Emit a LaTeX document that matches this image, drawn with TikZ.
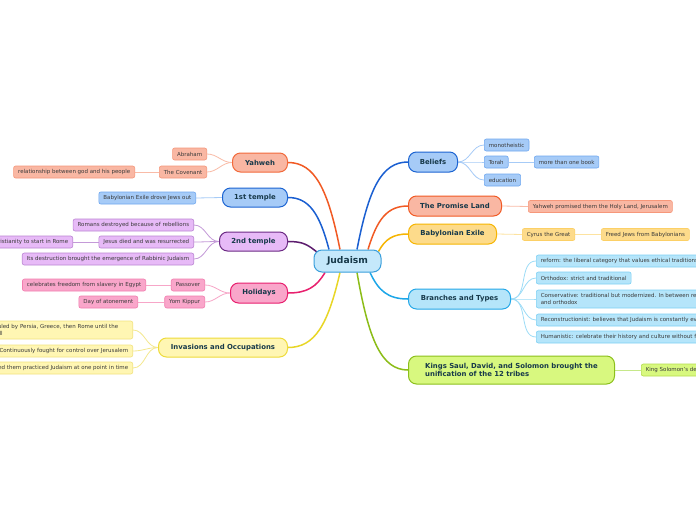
\documentclass[tikz,border=0pt]{standalone}
\usepackage{fontspec}
\setmainfont{DejaVu Sans}
\definecolor{tmain}{HTML}{17394A}
\definecolor{tsub}{HTML}{3A3A3A}
\definecolor{cenF}{HTML}{C5E8FB}\definecolor{cenB}{HTML}{3A9FDC}
\definecolor{salF}{HTML}{F9B7A3}\definecolor{salB}{HTML}{F26A3B}\definecolor{salL}{HTML}{F15A24}
\definecolor{salCB}{HTML}{F6977A}\definecolor{salCL}{HTML}{F9BBA7}
\definecolor{bluF}{HTML}{A6CBF7}\definecolor{bluB}{HTML}{1C64D2}\definecolor{bluL}{HTML}{1A5FD1}
\definecolor{bluCB}{HTML}{70A8F0}\definecolor{bluCL}{HTML}{A6CBF7}
\definecolor{purF}{HTML}{E7BAF7}\definecolor{purB}{HTML}{6C2A84}\definecolor{purL}{HTML}{5C1C6E}
\definecolor{purCB}{HTML}{BB85D4}\definecolor{purCL}{HTML}{C49AD8}
\definecolor{pinF}{HTML}{F9A6CA}\definecolor{pinB}{HTML}{E81F6E}\definecolor{pinL}{HTML}{E8206E}
\definecolor{pinCB}{HTML}{F27DAF}\definecolor{pinCL}{HTML}{F7A6C8}
\definecolor{yelF}{HTML}{FFF6B3}\definecolor{yelB}{HTML}{EEDB3A}\definecolor{yelL}{HTML}{E8D626}
\definecolor{yelCB}{HTML}{F2E37E}\definecolor{yelCL}{HTML}{F4E890}
\definecolor{ambF}{HTML}{FDDB8B}\definecolor{ambB}{HTML}{F6B502}\definecolor{ambL}{HTML}{F6B502}
\definecolor{ambCB}{HTML}{FCD066}\definecolor{ambCL}{HTML}{FDE3A0}
\definecolor{cyaF}{HTML}{B5E5FA}\definecolor{cyaB}{HTML}{25A8E8}\definecolor{cyaL}{HTML}{1CA6E8}
\definecolor{cyaCB}{HTML}{7FD1F4}\definecolor{cyaCL}{HTML}{9DDCF7}
\definecolor{grnF}{HTML}{D8F87F}\definecolor{grnB}{HTML}{8CC01C}\definecolor{grnL}{HTML}{8CBD18}
\definecolor{grnCB}{HTML}{B4DC4C}\definecolor{grnCL}{HTML}{C6E88A}
\pgfdeclarelayer{bg}
\pgfsetlayers{bg,main}
\begin{document}
\begin{tikzpicture}[x=1pt,y=-1pt,
  br/.style={draw, line width=1pt, rounded corners=8pt, minimum height=20pt, inner sep=0pt,
    font=\fontsize{6.9}{8.3}\selectfont\bfseries, text=tmain},
  ch/.style={draw, line width=0.6pt, rounded corners=2pt, minimum height=12pt, inner xsep=4.5pt, inner ysep=1pt,
    font=\fontsize{5.5}{6.4}\selectfont, text=tsub, align=left},
  mainln/.style={line width=1.5pt},
  subln/.style={line width=0.8pt},
  sal/.style={fill=salF, draw=salCB}, blu/.style={fill=bluF, draw=bluCB},
  pur/.style={fill=purF, draw=purCB}, pin/.style={fill=pinF, draw=pinCB},
  yel/.style={fill=yelF, draw=yelCB}, amb/.style={fill=ambF, draw=ambCB},
  cya/.style={fill=cyaF, draw=cyaCB}, grn/.style={fill=grnF, draw=grnCB}]
\useasboundingbox (0,0) rectangle (696,520);
\clip (0,0) rectangle (696,520);

% center
\node[br, fill=cenF, draw=cenB, minimum width=67pt, minimum height=22pt,
  font=\fontsize{9.2}{11}\selectfont\bfseries, text=tmain] (jud) at (347.5,261) {Judaism};

% left branches
\node[br, fill=salF, draw=salB, minimum width=55pt, minimum height=19pt, anchor=east] (yah) at (288,162.5) {Yahweh};
\node[br, fill=bluF, draw=bluB, minimum width=65pt, minimum height=19pt, anchor=east] (t1) at (288,197.5) {1st temple};
\node[br, fill=purF, draw=purB, minimum width=68pt, minimum height=19pt, anchor=east] (t2) at (288,241.5) {2nd temple};
\node[br, fill=pinF, draw=pinB, minimum width=57pt, minimum height=20pt, anchor=east] (hol) at (288,293) {Holidays};
\node[br, fill=yelF, draw=yelB, minimum width=129pt, minimum height=19pt, anchor=east] (inv) at (288,347.5) {Invasions and Occupations};

% right branches
\node[br, fill=bluF, draw=bluB, minimum width=49pt, anchor=west] (bel) at (408,162) {Beliefs};
\node[br, fill=salF, draw=salL, minimum width=93pt, anchor=west] (pro) at (408,206) {The Promise Land};
\node[br, fill=ambF, draw=ambB, minimum width=88pt, anchor=west] (bab) at (408,234) {Babylonian Exile};
\node[br, fill=cyaF, draw=cyaB, minimum width=102pt, anchor=west] (bra) at (408,299) {Branches and Types};
\node[br, fill=grnF, draw=grnB, minimum width=206pt, minimum height=28pt, anchor=west, align=left] (kin) at (408,370)
  {Kings Saul, David, and Solomon brought the\\unification of the 12 tribes};

% Yahweh children
\node[ch, sal, anchor=east] (abr) at (207,154) {Abraham};
\node[ch, sal, anchor=east] (cov) at (207,172) {The Covenant};
\node[ch, sal, anchor=east] (rel) at (135,172) {relationship between god and his people};
% 1st temple
\node[ch, blu, anchor=east] (bed) at (196,198) {Babylonian Exile drove Jews out};
% 2nd temple
\node[ch, pur, anchor=east] (rom) at (194,225) {Romans destroyed because of rebellions};
\node[ch, pur, anchor=east] (jes) at (194,242) {Jesus died and was resurrected};
\node[ch, pur, anchor=east] (chr) at (73,242) {Allowed Christianity to start in Rome};
\node[ch, pur, anchor=east] (its) at (194,259) {Its destruction brought the emergence of Rabbinic Judaism};
% Holidays
\node[ch, pin, anchor=east] (pas) at (205,285) {Passover};
\node[ch, pin, anchor=east] (cel) at (146,285) {celebrates freedom from slavery in Egypt};
\node[ch, pin, anchor=east] (yom) at (205,302) {Yom Kippur};
\node[ch, pin, anchor=east] (day) at (138,302) {Day of atonement};
% Invasions
\node[ch, yel, anchor=east, minimum height=18pt, text width=134pt] (ruled) at (133,330) {Ruled by Persia, Greece, then Rome until the\\fall};
\node[ch, yel, anchor=east] (cont) at (133,351) {Continuously fought for control over Jerusalem};
\node[ch, yel, anchor=east] (some) at (133,368) {Some who invaded them practiced Judaism at one point in time};
% Beliefs
\node[ch, blu, anchor=west] (mon) at (484,145) {monotheistic};
\node[ch, blu, anchor=west] (tor) at (484,162) {Torah};
\node[ch, blu, anchor=west] (more) at (534,162) {more than one book};
\node[ch, blu, anchor=west] (edu) at (484,180) {education};
% Promise land
\node[ch, sal, anchor=west] (yp) at (528,206.5) {Yahweh promised them the Holy Land, Jerusalem};
% Babylonian exile
\node[ch, amb, anchor=west] (cyr) at (522,234.5) {Cyrus the Great};
\node[ch, amb, anchor=west] (fre) at (601,234.5) {Freed Jews from Babylonians};
% Branches
\node[ch, cya, anchor=west] (ref) at (536,261) {reform: the liberal category that values ethical traditions over rituals};
\node[ch, cya, anchor=west] (ort) at (536,278) {Orthodox: strict and traditional};
\node[ch, cya, anchor=west, minimum height=18pt] (con) at (536,299) {Conservative: traditional but modernized. In between reform\\and orthodox};
\node[ch, cya, anchor=west] (rec) at (536,320) {Reconstructionist: believes that Judaism is constantly evolving};
\node[ch, cya, anchor=west] (hum) at (536,337) {Humanistic: celebrate their history and culture without faith};
% Kings
\node[ch, grn, anchor=west] (sol) at (641,370) {King Solomon's death};

\begin{pgfonlayer}{bg}
\fill[white] (0,0) rectangle (696,520);
% main connectors
\draw[mainln, salL] ([xshift=-7.5pt]jud.north) .. controls +(-12,-60) and +(27,0) .. (yah.east);
\draw[mainln, bluL] ([xshift=-18.5pt]jud.north) .. controls +(-9.4,-36) and +(21,0) .. (t1.east);
\draw[mainln, purL] ([xshift=4pt,yshift=-3pt]jud.north west) .. controls +(-10,-8) and +(15,0) .. (t2.east);
\draw[mainln, pinL] ([xshift=-22.5pt]jud.south) .. controls +(-8.5,14.5) and +(19,0) .. (hol.east);
\draw[mainln, yelL] ([xshift=-7.5pt]jud.south) .. controls +(-12,52) and +(27,0) .. (inv.east);
\draw[mainln, bluL] ([xshift=9.5pt]jud.north) .. controls +(11.7,-60.7) and +(-26.5,0) .. (bel.west);
\draw[mainln, salL] ([xshift=20.5pt]jud.north) .. controls +(9.2,-30.4) and +(-20.8,0) .. (pro.west);
\draw[mainln, ambL] ([xshift=-3pt,yshift=-2pt]jud.north east) .. controls +(6.7,-12.4) and +(-15,0) .. (bab.west);
\draw[mainln, cyaL] ([xshift=22.5pt]jud.south) .. controls +(8.7,18.6) and +(-19.8,0) .. (bra.west);
\draw[mainln, grnL] ([xshift=9.5pt]jud.south) .. controls +(11.7,67.6) and +(-26.5,0) .. (kin.west);
% child connectors
\draw[subln, salCL] (yah.west) to[out=180,in=0] (abr.east);
\draw[subln, salCL] (yah.west) to[out=180,in=0] (cov.east);
\draw[subln, salCL] (cov.west) -- (rel.east);
\draw[subln, bluCL] (t1.west) -- (bed.east);
\draw[subln, purCL] (t2.west) to[out=180,in=0] (rom.east);
\draw[subln, purCL] (t2.west) to[out=180,in=0] (jes.east);
\draw[subln, purCL] (t2.west) to[out=180,in=0] (its.east);
\draw[subln, purCL] (jes.west) -- (chr.east);
\draw[subln, pinCL] (hol.west) to[out=180,in=0] (pas.east);
\draw[subln, pinCL] (hol.west) to[out=180,in=0] (yom.east);
\draw[subln, pinCL] (pas.west) -- (cel.east);
\draw[subln, pinCL] (yom.west) -- (day.east);
\draw[subln, yelCL] (inv.west) to[out=180,in=0] (ruled.east);
\draw[subln, yelCL] (inv.west) to[out=180,in=0] (cont.east);
\draw[subln, yelCL] (inv.west) to[out=180,in=0] (some.east);
\draw[subln, bluCL] (bel.east) to[out=0,in=180] (mon.west);
\draw[subln, bluCL] (bel.east) to[out=0,in=180] (tor.west);
\draw[subln, bluCL] (bel.east) to[out=0,in=180] (edu.west);
\draw[subln, bluCL] (tor.east) -- (more.west);
\draw[subln, salCL] (pro.east) -- (yp.west);
\draw[subln, ambCL] (bab.east) -- (cyr.west);
\draw[subln, ambCL] (cyr.east) -- (fre.west);
\draw[subln, cyaCL] (bra.east) to[out=0,in=180] (ref.west);
\draw[subln, cyaCL] (bra.east) to[out=0,in=180] (ort.west);
\draw[subln, cyaCL] (bra.east) to[out=0,in=180] (con.west);
\draw[subln, cyaCL] (bra.east) to[out=0,in=180] (rec.west);
\draw[subln, cyaCL] (bra.east) to[out=0,in=180] (hum.west);
\draw[subln, grnCL] (kin.east) -- (sol.west);
\end{pgfonlayer}
\end{tikzpicture}
\end{document}
